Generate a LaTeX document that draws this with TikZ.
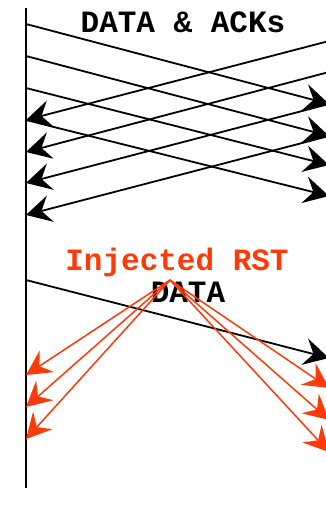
\documentclass[tikz,border=0pt]{standalone}
\usepackage{fontspec}
\setmonofont{Liberation Mono}
\usetikzlibrary{arrows.meta}
\definecolor{rstred}{RGB}{255,58,8}
\tikzset{
  lbl/.style={font=\ttfamily\bfseries\fontsize{31}{31}\selectfont, inner sep=0pt, anchor=center},
  msg/.style={line width=1.8pt, -{Stealth[length=25pt, width=27pt, inset=9pt]}},
  rst/.style={draw=rstred, line width=1.5pt, -{Stealth[length=25pt, width=26pt, inset=9pt]}, color=rstred},
}
\begin{document}
\begin{tikzpicture}[x=1pt,y=-1pt]
\useasboundingbox (0,0) rectangle (326,516);
% host line
\coordinate (top) at (26,8);
\coordinate (bot) at (26,488);
\draw[line width=2pt] (top) -- (bot);
% left points
\foreach \n/\y in {l1/24,l2/56,l3/88,l4/120,l5/152,l6/183,l7/215}
  \coordinate (\n) at (26,\y);
% right points
\foreach \n/\y in {r0/41,r1/72,r2/104,r3/136,r4/165,r5/196}
  \coordinate (\n) at (329,\y);
\node[lbl] (title) at (183,22) {DATA \& ACKs};
% data
\draw[msg] (l1) -- (r2);
\draw[msg] (l2) -- (r3);
\draw[msg] (l3) -- (r4);
\draw[msg] (l4) -- (r5);
% acks
\draw[msg] (r0) -- (l4);
\draw[msg] (r1) -- (l5);
\draw[msg] (r2) -- (l6);
\draw[msg] (r3) -- (l7);
% lower part
\node[lbl, text=rstred] (inj) at (177,262) {Injected RST};
\node[lbl] (data) at (188,292) {DATA};
\coordinate (d0) at (26,280);
\coordinate (d1) at (329,358);
\draw[msg] (d0) -- (d1);
\coordinate (apex) at (170,280);
\coordinate (a1) at (26,375);
\coordinate (a2) at (26,407);
\coordinate (a3) at (26,439);
\coordinate (b1) at (329,388);
\coordinate (b2) at (329,420);
\coordinate (b3) at (329,452);
\foreach \t in {a1,a2,a3,b1,b2,b3}
  \draw[rst] (apex) -- (\t);
\end{tikzpicture}
\end{document}
